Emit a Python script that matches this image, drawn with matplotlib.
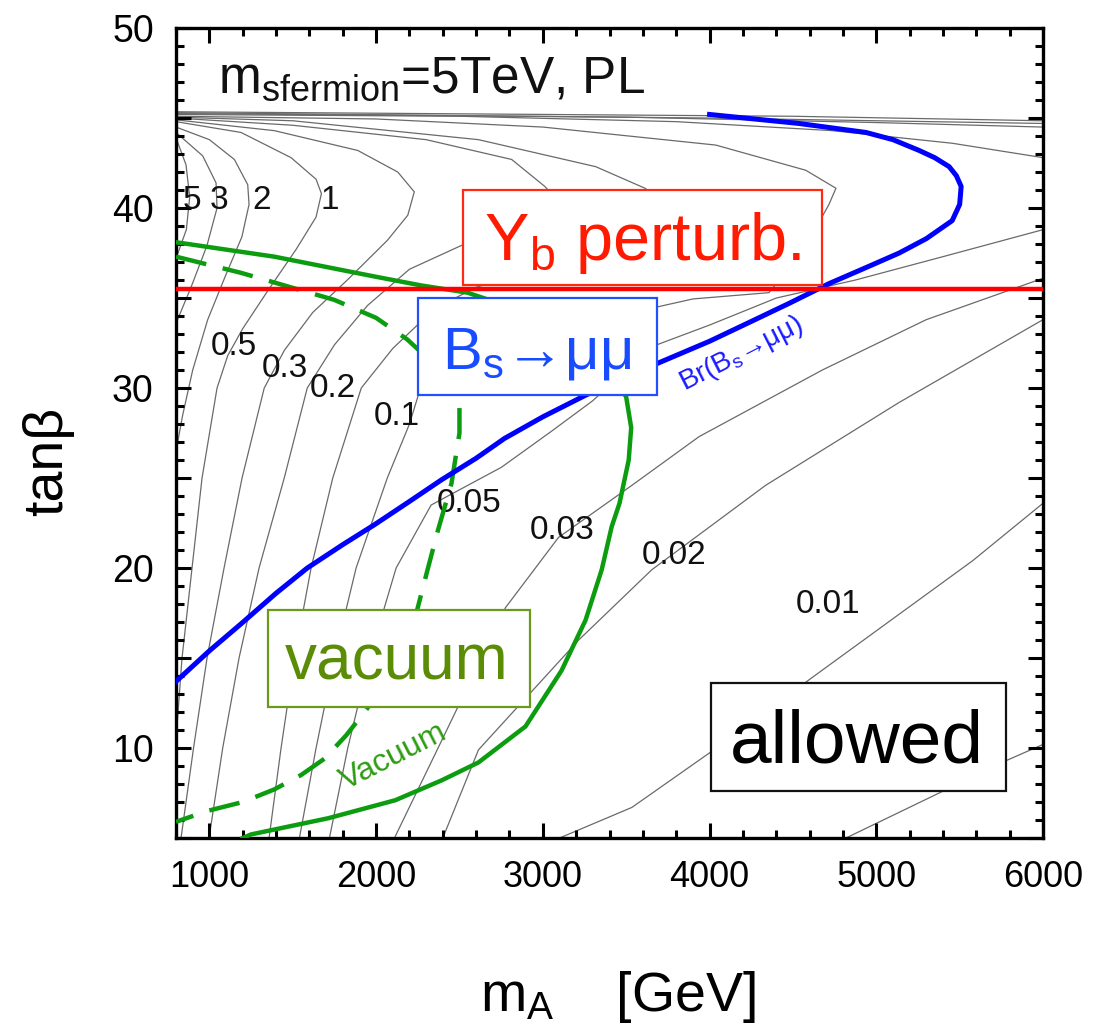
import matplotlib
matplotlib.use("Agg")
import matplotlib.pyplot as plt
from matplotlib.patches import Rectangle
from matplotlib.ticker import MultipleLocator, FuncFormatter

plt.rcParams['font.family'] = ['Liberation Sans', 'DejaVu Sans']
plt.rcParams['mathtext.default'] = 'regular'

# --- contour lines of the deviation, (m_A [GeV], tan beta) points ---
iso_5 = [(800, 43.9), (860, 42.4), (882, 40.6), (862, 38.8), (800, 37.2)]
iso_3 = [(800, 44.2), (960, 42.9), (1040, 41.4), (1046, 40.0), (985, 37.9),
         (890, 35.6), (800, 33.6)]
iso_2 = [(800, 44.5), (1000, 43.8), (1150, 42.7), (1230, 41.3), (1238, 40.2),
         (1195, 38.4), (1095, 36.2), (990, 33.8), (900, 31.0), (840, 28.5),
         (800, 26.5)]
iso_1 = [(800, 44.8), (1190, 44.2), (1490, 42.8), (1640, 41.6), (1672, 40.8),
         (1640, 39.5), (1520, 37.7), (1350, 35.4), (1200, 33.3), (1110, 31.8),
         (1046, 30.0), (956, 25.0), (896, 20.0), (836, 15.0), (800, 10.5)]
iso_05 = [(800, 44.9), (1390, 44.3), (1890, 43.2), (2130, 42.0), (2229, 40.9),
          (2190, 39.6), (2067, 38.2), (1827, 36.0), (1620, 34.2), (1450, 32.1),
          (1329, 30.0), (1196, 25.0), (1088, 20.0), (986, 15.0), (905, 10.0),
          (830, 5.0)]
iso_03 = [(800, 45.0), (1500, 44.6), (2300, 43.8), (2813, 42.7), (3012, 41.2),
          (3150, 39.8), (2900, 38.9), (2530, 38.0), (2200, 36.6), (1950, 34.6),
          (1750, 32.4), (1587, 30.0), (1449, 25.0), (1298, 20.0), (1178, 15.0),
          (1080, 10.0), (998, 5.0)]
iso_02 = [(800, 45.05), (1500, 44.85), (2614, 43.8), (3317, 42.3), (3613, 41.1),
          (3800, 39.8), (3500, 38.3), (3000, 36.7), (2600, 35.6), (2350, 34.4),
          (2100, 32.2), (1911, 30.0), (1740, 25.0), (1610, 20.0), (1510, 15.0),
          (1430, 10.0), (1358, 5.0)]
iso_01 = [(800, 45.1), (2000, 44.95), (3000, 44.5), (4037, 43.5), (4577, 42.1),
          (4758, 41.1), (4716, 40.2), (4560, 37.6), (4356, 35.3), (3900, 34.95),
          (3683, 34.5), (3000, 33.3), (2400, 31.5), (2253, 29.6), (2200, 28.0),
          (2067, 25.0), (1880, 20.0), (1750, 15.0), (1640, 10.0), (1540, 5.0)]
iso_005 = [(800, 45.2), (2500, 45.1), (3800, 44.8), (4736, 44.3), (5456, 43.6),
           (6000, 42.8)]
iso_005_low = [(1720, 5.0), (1830, 10.0), (1960, 15.0), (2120, 20.0),
               (2330, 23.5), (2752, 25.6), (3052, 27.6), (3300, 29.3),
               (3500, 31.0), (3683, 32.4), (4000, 33.5), (4400, 35.0),
               (4874, 36.0), (5400, 37.3), (6000, 38.8)]
iso_003 = [(800, 45.25), (3500, 45.05), (5000, 44.75), (6000, 44.5)]
iso_003_low = [(2110, 5.0), (2450, 11.5), (2776, 17.8), (3094, 21.7),
               (3535, 24.6), (3937, 27.3), (4676, 31.0), (5300, 33.8),
               (6000, 36.1)]
iso_002 = [(800, 45.3), (4000, 45.0), (6000, 44.7)]
iso_002_low = [(2400, 5.0), (2614, 9.9), (3215, 16.0), (3653, 19.9),
               (4337, 24.6), (5137, 29.2), (6000, 33.8)]
iso_001 = [(800, 45.35), (4500, 45.1), (6000, 44.85)]
iso_001_low = [(3100, 5.0), (3534, 6.7), (4195, 11.0), (4598, 13.8),
               (5577, 20.4), (6000, 23.6)]
iso_0005_low = [(4818, 5.0), (5779, 9.3), (6000, 10.2)]

iso_lines = [iso_5, iso_3, iso_2, iso_1, iso_05, iso_03, iso_02, iso_01,
             iso_005, iso_005_low, iso_003, iso_003_low, iso_002, iso_002_low,
             iso_001, iso_001_low, iso_0005_low]

iso_labels = ['5', '3', '2', '1', '0.5', '0.3', '0.2', '0.1',
              '0.05', '0.03', '0.02', '0.01']
iso_label_x = [893, 1058, 1311, 1725, 1145, 1452, 1740, 2124,
               2557, 3115, 3788, 4710]
iso_label_y = [40.4, 40.4, 40.4, 40.4, 32.3, 31.1, 30.0, 28.4,
               23.6, 22.1, 20.7, 18.0]

# --- constraint curves ---
bsmumu = [(800, 13.7), (1000, 15.4), (1190, 16.9), (1400, 18.6), (1587, 20.0),
          (1800, 21.3), (1989, 22.4), (2200, 23.7), (2392, 24.9), (2600, 26.1),
          (2770, 27.2), (3000, 28.4), (3256, 29.6), (3500, 30.6), (3695, 31.4),
          (4000, 32.6), (4250, 33.7), (4476, 34.7), (4716, 35.8), (4940, 36.7),
          (5137, 37.5), (5300, 38.3), (5455, 39.3), (5500, 40.2), (5509, 41.2),
          (5480, 41.8), (5437, 42.3), (5350, 42.8), (5257, 43.2), (5100, 43.8),
          (4938, 44.2), (4536, 44.7), (4000, 45.2)]
vacuum_solid = [(800, 38.1), (1389, 37.3), (1989, 36.2), (2271, 35.7),
                (2548, 35.3), (2900, 34.2), (3200, 32.6), (3420, 30.8),
                (3500, 29.5), (3530, 27.8), (3515, 26.0), (3460, 23.6),
                (3413, 22.3), (3353, 19.9), (3256, 17.1), (3112, 14.3),
                (2896, 11.2), (2614, 9.2), (2392, 8.2), (2115, 7.1),
                (1713, 6.1), (1250, 5.2), (1200, 5.0)]
vacuum_dashed = [(800, 37.3), (1190, 36.4), (1749, 34.9), (2000, 33.9),
                 (2187, 32.7), (2350, 31.3), (2460, 30.0), (2500, 29.3),
                 (2500, 27.5), (2452, 24.7), (2368, 22.0), (2300, 19.6),
                 (2247, 17.7), (2100, 14.6), (1947, 12.2), (1820, 10.7),
                 (1689, 9.4), (1550, 8.5), (1389, 7.7), (1200, 7.0),
                 (986, 6.5), (800, 5.9)]
yb_limit = 35.5

fig = plt.figure(figsize=(10.94, 10.28), dpi=100)
ax = fig.add_axes([0.1609, 0.1848, 0.7925, 0.7879])
ax.set_xlim(800, 6000)
ax.set_ylim(5, 50)

for pts in iso_lines:
    xs, ys = zip(*pts)
    ax.plot(xs, ys, color='#6a6a6a', lw=0.9, zorder=1)

for lab, lx, ly in zip(iso_labels, iso_label_x, iso_label_y):
    ax.text(lx, ly, lab, fontsize=24, ha='center', va='center', color='#111111',
            zorder=2)

green = '#0c9c10'
xs, ys = zip(*vacuum_solid)
ax.plot(xs, ys, color=green, lw=3.2, zorder=3)
xs, ys = zip(*vacuum_dashed)
ax.plot(xs, ys, color=green, lw=3.2, dashes=(7, 3.8), zorder=3)
xs, ys = zip(*bsmumu)
ax.plot(xs, ys, color='#0000ff', lw=3.6, zorder=3)
ax.axhline(yb_limit, color='#ff0000', lw=3.2, zorder=3)

ax.text(4190, 31.9, 'Br(B$_s$→μμ)', color='#1a1aff', fontsize=20,
        rotation=27, ha='center', va='center', zorder=4)
ax.text(2103, 9.5, 'Vacuum', color='#2e9c12', fontsize=23,
        rotation=27, ha='center', va='center', zorder=4)

# boxed region labels
boxes = [
    (2524, 35.72, 2150, 5.28, '#ff2a10', 'Y$_b$ perturb.', 3600, 37.1, 48, '#ff1a00'),
    (2253, 29.6, 1430, 5.4, '#2050ff', 'B$_s$→μμ', 2960, 31.1, 43, '#1a4cff'),
    (1353, 12.28, 1573, 5.39, '#6a9a1a', 'vacuum', 2125, 13.8, 46, '#5b8c05'),
    (4007, 7.61, 1772, 6.0, '#111111', 'allowed', 4885, 9.17, 54, '#000000'),
]
for x0, y0, w, h, ec, txt, tx, ty, fs, tc in boxes:
    ax.add_patch(Rectangle((x0, y0), w, h, facecolor='white', edgecolor=ec,
                           lw=1.6, zorder=5))
    ax.text(tx, ty, txt, fontsize=fs, color=tc, ha='center', va='baseline',
            zorder=6)

ax.text(1052, 46.4, 'm$_{sfermion}$=5TeV, PL', fontsize=37, color='#111111',
        ha='left', va='baseline', zorder=6)

# frame and ticks
for sp in ax.spines.values():
    sp.set_linewidth(2.4)
ax.xaxis.set_major_locator(MultipleLocator(1000))
ax.xaxis.set_minor_locator(MultipleLocator(200))
ax.yaxis.set_major_locator(MultipleLocator(5))
ax.yaxis.set_minor_locator(MultipleLocator(1))
ax.yaxis.set_major_formatter(FuncFormatter(
    lambda v, p: '%d' % v if int(round(v)) % 10 == 0 else ''))
ax.tick_params(which='both', direction='in', top=True, right=True, width=2.2)
ax.tick_params(which='major', length=11)
ax.tick_params(which='minor', length=6)
ax.tick_params(axis='x', which='major', pad=16, labelsize=26)
ax.tick_params(axis='y', which='major', pad=16, labelsize=27)

fig.text(0.565, 0.030, 'm$_A$    [GeV]', fontsize=40, ha='center', va='center')
fig.text(0.044, 0.551, 'tanβ', fontsize=40, rotation=90,
         ha='center', va='center')

fig.savefig('out.png', dpi=100)
